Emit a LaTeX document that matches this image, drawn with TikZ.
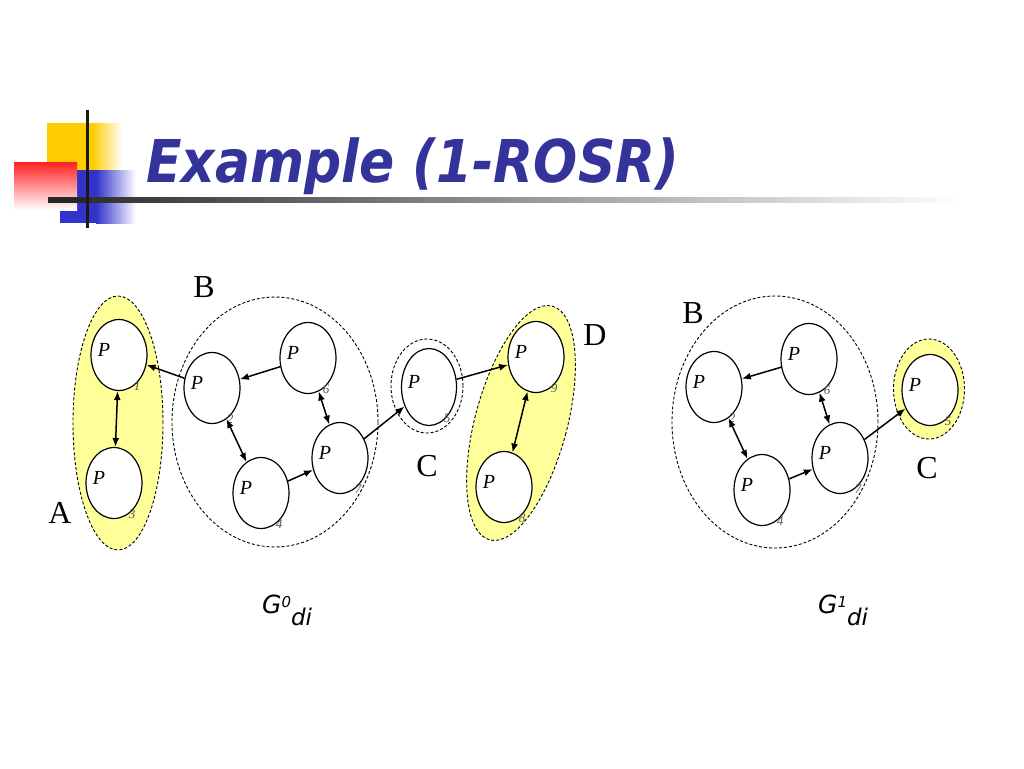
\documentclass[tikz,border=0pt]{standalone}
\usepackage{fontspec}
\setmainfont{Liberation Serif}
\newfontfamily\tahomalike{DejaVu Sans}
\usetikzlibrary{shapes.geometric,arrows.meta}
\definecolor{titleblue}{HTML}{333399}
\definecolor{grpyellow}{HTML}{FFFF99}
\definecolor{logoyellow}{HTML}{FFCC00}
\definecolor{logoblue}{HTML}{3333CC}
\definecolor{logored}{HTML}{FF2020}
\definecolor{digitgray}{HTML}{555555}
\tikzset{
  vtx/.style={ellipse,draw=black,fill=white,line width=1.2pt,minimum width=56pt,minimum height=71pt,inner sep=0pt},
  grp/.style={ellipse,draw=black,dash pattern=on 3pt off 2pt,line width=0.9pt,inner sep=0pt},
  ptext/.style={font=\itshape\fontsize{20}{22}\selectfont,inner sep=0pt},
  dtext/.style={font=\itshape\fontsize{13}{14}\selectfont,text=digitgray,inner sep=0pt},
  grplabel/.style={font=\fontsize{32}{34}\selectfont,inner sep=0pt},
  arr/.style={line width=1.5pt,-{Latex[length=9pt,width=7pt]}},
  darr/.style={line width=1.5pt,{Latex[length=9pt,width=7pt]}-{Latex[length=9pt,width=7pt]}},
  glabel/.style={font=\tahomalike\itshape\fontsize{25}{28}\selectfont,inner sep=0pt,anchor=base west}
}
\newcommand\mkvert[5][]{%
  \node[vtx,#1] (#2) at (#3,#4) {};
  \node[ptext] (#2P) at (#3-15,#4-5) {P};
  \node[dtext] (#2d) at (#3+18,#4+31) {#5};
}
\begin{document}
\begin{tikzpicture}[x=1pt,y=-1pt]
\fill[white] (0,0) rectangle (1024,768);
\useasboundingbox (0,0) rectangle (1024,768);

% logo
\fill[logoyellow] (47,123) rectangle (92,172);
\shade[left color=logoyellow,right color=white] (92,123) rectangle (122,172);
\fill[logoblue] (60,170) rectangle (96,223);
\shade[left color=logoblue,right color=white] (96,170) rectangle (136,223);
\shade[shading angle=-45,top color=logored,bottom color=white] (14,162) rectangle (77,210);
\shade[left color=black!85,right color=white] (48,197.5) rectangle (962,202.5);
\fill[black!85] (48,197.5) rectangle (90,202.5);
\fill[black!90] (85.5,110) rectangle (88.5,228);

% title
\node[anchor=base west,inner sep=0pt,text=titleblue,font=\tahomalike\bfseries\itshape\fontsize{59}{62}\selectfont] (title) at (146,182) {\scalebox{0.88}[1]{Example (1-ROSR)}};

% left graph: groups
\node[grp,fill=grpyellow,minimum width=90pt,minimum height=254pt] (gA) at (118,423) {};
\node[grp,minimum width=206pt,minimum height=250pt] (gB) at (275,422) {};
\node[grp,minimum width=72pt,minimum height=94pt] (gC) at (427,386) {};
\node[grp,fill=grpyellow,minimum width=92pt,minimum height=242pt,rotate=-15] (gD) at (521,423) {};

\mkvert{p1}{119}{355}{1}
\mkvert{p3}{114}{483}{3}
\mkvert{p2}{212}{388}{2}
\mkvert{p6}{308}{358}{6}
\mkvert{p7}{340}{458}{7}
\mkvert{p4}{261}{493}{4}
\mkvert[minimum width=55pt,minimum height=77pt]{p5}{429}{387}{5}
\mkvert{p9}{536}{357}{9}
\mkvert{p8}{504}{487}{8}

\node[grplabel] (lA) at (60,513) {A};
\node[grplabel] (lB) at (204,287) {B};
\node[grplabel] (lC) at (427,466) {C};
\node[grplabel] (lD) at (595,335) {D};

\draw[darr] (p1) -- (p3);
\draw[arr] (p2) -- (p1);
\draw[arr] (p6) -- (p2);
\draw[darr] (p2) -- (p4);
\draw[darr] (p6) -- (p7);
\draw[arr] (p4) -- (p7);
\draw[arr] (p7) -- (p5);
\draw[arr] (p5) -- (p9);
\draw[darr] (p9) -- (p8);

\node[glabel] (g0) at (262,613) {G\raisebox{6pt}{\fontsize{15}{16}\selectfont 0}\raisebox{-12pt}{\fontsize{23}{24}\selectfont di}};

% right graph
\node[grp,minimum width=206pt,minimum height=252pt] (hB) at (775,422) {};
\node[grp,fill=grpyellow,minimum width=71pt,minimum height=100pt] (hC) at (929,389) {};

\mkvert{q2}{714}{387}{2}
\mkvert{q6}{809}{359}{6}
\mkvert{q7}{840}{458}{7}
\mkvert{q4}{762}{490}{4}
\mkvert{q5}{930}{390}{5}

\node[grplabel] (mB) at (693,313) {B};
\node[grplabel] (mC) at (927,468) {C};

\draw[arr] (q6) -- (q2);
\draw[darr] (q2) -- (q4);
\draw[darr] (q6) -- (q7);
\draw[arr] (q4) -- (q7);
\draw[arr] (q7) -- (q5);

\node[glabel] (g1) at (818,613) {G\raisebox{6pt}{\fontsize{15}{16}\selectfont 1}\raisebox{-12pt}{\fontsize{23}{24}\selectfont di}};
\end{tikzpicture}
\end{document}
